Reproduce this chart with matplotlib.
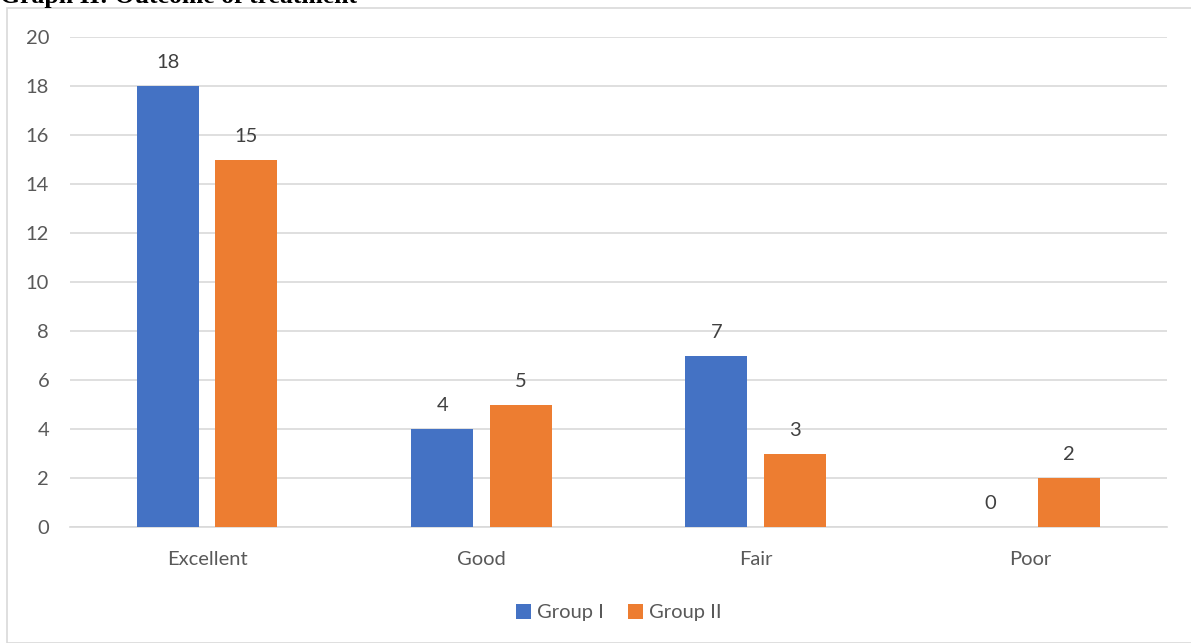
import numpy as np
import matplotlib.pyplot as plt
from matplotlib.patches import Rectangle

categories = ['Excellent', 'Good', 'Fair', 'Poor']
group1 = [18, 4, 7, 0]
group2 = [15, 5, 3, 2]
series_names = ['Group I', 'Group II']
yticks = [0, 2, 4, 6, 8, 10, 12, 14, 16, 18, 20]

plt.rcParams['font.family'] = ['Lato', 'DejaVu Sans']

fig = plt.figure(figsize=(11.91, 6.43), dpi=100)
W, H = 1191, 643

# chart frame
fig.patches.append(Rectangle((7 / W, 0), 1.2, 1 - 8 / H, transform=fig.transFigure,
                             fill=False, edgecolor='#d9d9d9', linewidth=1.2))
# caption above the chart, cut by the top edge as in the source
fig.text(0.0, 1 - 3 / H, 'Graph II: Outcome of treatment', family='Liberation Serif',
         fontweight='bold', fontsize=18.5, va='baseline', ha='left', color='black')

ax = fig.add_axes([70 / W, 1 - 527 / H, 1097 / W, 490 / H])
x = np.arange(len(categories))
w = 0.226
off = 0.143
b1 = ax.bar(x - off, group1, width=w, color='#4472c4', label=series_names[0], zorder=3)
b2 = ax.bar(x + off, group2, width=w, color='#ed7d31', label=series_names[1], zorder=3)

for bars, vals in ((b1, group1), (b2, group2)):
    for rect, v in zip(bars, vals):
        ax.text(rect.get_x() + rect.get_width() / 2, v + 0.6, str(v), ha='center',
                va='bottom', fontsize=14.5, color='#404040')

ax.set_xlim(-0.5, 3.5)
ax.set_ylim(0, 20)
ax.set_yticks(yticks)
ax.set_xticks(x)
ax.set_xticklabels(categories)
ax.yaxis.grid(True, color='#d9d9d9', linewidth=1.2, zorder=0)
for s in ['top', 'right', 'left']:
    ax.spines[s].set_visible(False)
ax.spines['bottom'].set_color('#d9d9d9')
ax.spines['bottom'].set_linewidth(1.2)
ax.tick_params(axis='both', length=0, labelsize=14.5, labelcolor='#595959')
ax.tick_params(axis='x', pad=17)
ax.tick_params(axis='y', pad=15)

ax.legend(loc='upper center', bbox_to_anchor=(0.5, -0.12), ncol=2, frameon=False,
          fontsize=14.5, handlelength=0.75, handleheight=0.75, handletextpad=0.3,
          columnspacing=1.2, labelcolor='#595959')

fig.savefig('out.png', dpi=100)
